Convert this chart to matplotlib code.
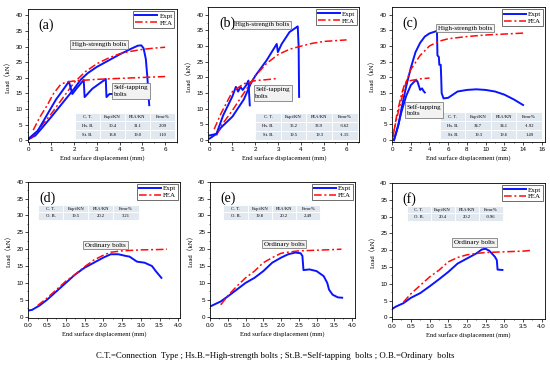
import matplotlib
matplotlib.use("Agg")
import matplotlib.pyplot as plt
from matplotlib.ticker import MultipleLocator, FormatStrFormatter

plt.rcParams['font.family'] = ['Liberation Serif', 'Noto Sans CJK SC']

BLUE = '#0a14ff'
RED = '#ff0a0a'

# ---------------- data ----------------
# (a)
a_hs_expt_x = [0, 0.3, 0.6, 1.0, 1.5, 2.0, 2.3, 2.6, 3.0, 3.5, 4.0, 4.5, 4.8, 4.95, 5.05, 5.15, 5.22, 5.27, 5.3]
a_hs_expt_y = [0.3, 1.5, 4.0, 7.5, 12.0, 16.5, 19.5, 21.5, 23.5, 25.5, 27.5, 29.3, 30.3, 30.4, 29.5, 26.0, 20.0, 14.0, 11.2]
a_st_expt_x = [0, 0.4, 0.8, 1.2, 1.5, 1.77, 1.92, 2.1, 2.42, 2.46, 2.8, 3.39, 3.42, 3.55, 3.68]
a_st_expt_y = [0.5, 3.0, 8.0, 13.0, 16.0, 18.8, 14.8, 16.5, 19.3, 13.8, 16.5, 19.6, 13.8, 14.8, 14.8]
a_hs_fea_x = [0.1, 0.5, 1.0, 1.5, 2.0, 2.5, 3.0, 3.5, 4.0, 4.5, 5.0, 5.5, 6.0]
a_hs_fea_y = [0.5, 4.0, 8.5, 13.5, 18.5, 22.0, 24.5, 26.3, 27.7, 28.5, 29.1, 29.5, 29.8]
a_st_fea_x = [0.2, 0.5, 0.8, 1.1, 1.4, 1.6, 2.0, 3.0, 4.0, 5.0, 6.0]
a_st_fea_y = [3.2, 7.5, 11.0, 15.0, 17.8, 18.5, 19.0, 19.5, 19.8, 20.1, 20.4]

# (b)
b_hs_expt_x = [0, 0.3, 0.5, 1.0, 1.5, 1.8, 2.0, 2.5, 2.94, 2.99, 3.15, 3.5, 3.8, 3.86, 3.9, 3.92]
b_hs_expt_y = [1.5, 2.0, 4.0, 7.5, 13.0, 18.0, 20.5, 25.5, 30.7, 28.1, 30.6, 34.5, 36.0, 36.3, 30.0, 13.8]
b_st_expt_x = [0, 0.3, 0.6, 1.0, 1.15, 1.25, 1.35, 1.45, 1.6, 1.7, 1.73, 1.76]
b_st_expt_y = [0.5, 2.0, 8.0, 14.0, 17.0, 15.5, 17.0, 16.0, 17.5, 19.0, 15.0, 11.1]
b_hs_fea_x = [0.3, 0.5, 1.0, 1.5, 2.0, 2.5, 3.0, 3.5, 4.0, 4.5, 5.0, 6.0]
b_hs_fea_y = [1.5, 4.5, 9.5, 15.0, 20.5, 24.5, 27.3, 29.0, 30.0, 30.9, 31.5, 32.0]
b_st_fea_x = [0.2, 0.5, 1.0, 1.5, 2.0, 2.5, 3.0]
b_st_fea_y = [3.5, 8.5, 15.5, 18.0, 19.0, 19.3, 19.7]

# (c)
c_hs_expt_x = [0.2, 0.7, 1.0, 1.5, 2.0, 2.5, 3.0, 3.5, 4.0, 4.7, 4.8, 4.85, 5.0, 5.05, 5.2, 5.25, 5.3, 5.5, 6.0, 6.5, 7.0, 8.0, 9.0, 10.0, 11.0, 12.0, 13.0, 14.0]
c_hs_expt_y = [0.0, 5.0, 10.0, 17.0, 23.0, 28.0, 31.0, 33.0, 34.0, 34.7, 34.5, 27.0, 26.5, 24.0, 24.0, 20.0, 15.0, 13.3, 13.5, 14.5, 15.5, 16.0, 16.2, 16.0, 15.5, 14.5, 13.0, 11.2]
c_st_expt_x = [0.2, 0.5, 1.0, 1.5, 2.0, 2.5, 2.7, 3.0, 3.2, 3.4, 3.5]
c_st_expt_y = [0.0, 3.0, 9.0, 14.0, 17.5, 19.0, 18.8, 16.0, 16.5, 15.5, 15.2]
c_hs_fea_x = [0.2, 0.5, 1.0, 1.5, 2.0, 3.0, 4.0, 5.0, 6.0, 8.0, 10.0, 12.0, 14.0]
c_hs_fea_y = [3.0, 7.0, 13.0, 18.5, 22.5, 27.0, 30.0, 31.5, 32.3, 33.0, 33.5, 33.8, 34.1]
c_st_fea_x = [0.1, 0.5, 1.0, 1.3, 1.5, 2.0, 3.0, 4.0]
c_st_fea_y = [1.0, 8.0, 14.5, 17.5, 18.5, 19.0, 19.5, 19.8]

# (d)
d_expt_x = [0, 0.1, 0.3, 0.5, 0.75, 1.0, 1.25, 1.5, 1.75, 2.0, 2.2, 2.4, 2.6, 2.7, 2.9, 3.1, 3.3, 3.4, 3.55]
d_expt_y = [1.8, 2.0, 3.3, 5.0, 7.5, 10.0, 12.5, 14.5, 16.0, 17.5, 18.5, 18.5, 18.0, 17.8, 16.3, 16.0, 15.0, 13.5, 11.5]
d_fea_x = [0.25, 0.5, 0.75, 1.0, 1.25, 1.5, 1.75, 2.0, 2.2, 2.5, 3.0, 3.5, 3.7]
d_fea_y = [3.3, 5.5, 8.0, 10.5, 12.5, 14.8, 16.8, 18.2, 19.1, 19.5, 19.8, 19.9, 20.0]

# (e)
e_expt_x = [0, 0.3, 0.5, 0.75, 1.0, 1.25, 1.5, 1.75, 2.0, 2.2, 2.4, 2.55, 2.6, 2.63, 2.8, 3.0, 3.2, 3.3, 3.35, 3.45, 3.6, 3.72]
e_expt_y = [3.0, 4.5, 6.0, 8.0, 10.0, 11.5, 13.5, 16.0, 17.5, 18.5, 19.0, 18.8, 18.0, 13.8, 14.0, 13.5, 12.0, 10.0, 8.0, 6.5, 5.7, 5.6]
e_fea_x = [0.3, 0.5, 0.75, 1.0, 1.25, 1.5, 1.75, 2.0, 2.25, 2.5, 3.0, 3.5, 3.7]
e_fea_y = [3.5, 6.2, 9.0, 11.5, 13.5, 16.0, 17.5, 18.8, 19.2, 19.5, 19.7, 19.9, 20.0]

# (f)
f_expt_x = [0, 0.1, 0.3, 0.5, 0.75, 1.0, 1.25, 1.5, 1.75, 2.0, 2.25, 2.4, 2.5, 2.6, 2.75, 2.8, 2.82, 2.95]
f_expt_y = [2.5, 3.2, 4.2, 5.8, 7.2, 9.2, 11.3, 13.5, 16.0, 17.5, 19.0, 20.2, 20.4, 19.8, 18.0, 17.0, 14.2, 14.1]
f_fea_x = [0.3, 0.5, 0.75, 1.0, 1.25, 1.5, 1.75, 2.0, 2.25, 2.5, 3.0, 3.5, 3.7]
f_fea_y = [4.5, 7.0, 9.5, 12.0, 14.0, 16.5, 17.8, 18.6, 19.0, 19.3, 19.5, 19.7, 19.9]

table_head = ["C. T.", "Expt/KN", "FEA/KN", "Error%"]
a_rows = [["Hs. B.", "30.4", "31.1", "2.09"], ["St. B.", "18.8", "19.0", "1.10"]]
b_rows = [["Hs. B.", "35.2", "33.9", "-3.62"], ["St. B.", "19.5", "19.3", "-1.15"]]
c_rows = [["Hs. B.", "34.7", "34.1", "-1.92"], ["St. B.", "19.3", "19.6", "1.49"]]
d_rows = [["O. B.", "19.5", "20.2", "3.21"]]
e_rows = [["O. B.", "19.8", "20.2", "2.49"]]
f_rows = [["O. B.", "20.4", "20.2", "-0.96"]]

caption = ("C.T.=Connection  Type ; Hs.B.=High-strength bolts ; "
           "St.B.=Self-tapping  bolts ; O.B.=Ordinary  bolts")

# ---------------- figure ----------------
fig = plt.figure(figsize=(5.5, 3.68), dpi=100)

box_style = dict(boxstyle='square,pad=0.25', fc='#f2f2f2', ec='#666666', lw=0.5)
DASH = (0, (5, 1.8, 1.3, 1.8))


def style_axes(ax, xmajor, xminor, xfmt):
    ax.xaxis.set_major_locator(MultipleLocator(xmajor))
    ax.xaxis.set_minor_locator(MultipleLocator(xminor))
    ax.xaxis.set_major_formatter(FormatStrFormatter(xfmt))
    ax.yaxis.set_major_locator(MultipleLocator(5))
    ax.yaxis.set_minor_locator(MultipleLocator(2.5))
    ax.tick_params(which='major', length=2, width=0.5, labelsize=4.5, pad=1.5,
                   labelfontfamily='Liberation Sans')
    ax.tick_params(which='minor', length=1, width=0.4)
    for s in ax.spines.values():
        s.set_linewidth(0.6)
    ax.set_xlabel("End surface displacement (mm)", fontsize=4.8, labelpad=2.5)
    ax.set_ylabel("Load（kN）", fontsize=4.8, labelpad=3)


def add_table(ax, rows, bbox):
    tb = ax.table(cellText=[table_head] + rows, bbox=bbox, cellLoc='center')
    tb.auto_set_font_size(False)
    tb.set_fontsize(3.3)
    for cell in tb.get_celld().values():
        cell.set_facecolor('#e2e8f0')
        cell.set_edgecolor('white')
        cell.set_linewidth(0.6)
    tb.set_zorder(1)


def add_legend(ax):
    leg = ax.legend(loc='upper right', fontsize=5, frameon=True, fancybox=False,
                    handlelength=3.2, borderpad=0.25, labelspacing=0.15,
                    handletextpad=0.3, borderaxespad=0.3)
    leg.get_frame().set_edgecolor('black')
    leg.get_frame().set_linewidth(0.5)


def panel_label(ax, text):
    ax.text(0.07, 0.93, text, transform=ax.transAxes, fontsize=10, va='top', ha='left')


lw_b, lw_r = 1.4, 1.1

# (a)
ax = fig.add_axes([0.050, 0.615, 0.271, 0.36])
ax.plot(a_hs_expt_x, a_hs_expt_y, color=BLUE, lw=lw_b, label='Expt')
ax.plot(a_hs_fea_x, a_hs_fea_y, color=RED, lw=lw_r, ls=DASH, label='FEA')
ax.plot(a_st_expt_x, a_st_expt_y, color=BLUE, lw=lw_b)
ax.plot(a_st_fea_x, a_st_fea_y, color=RED, lw=lw_r, ls=DASH)
ax.set_xlim(-0.05, 6.5)
ax.set_ylim(-0.5, 42)
style_axes(ax, 1, 0.5, '%d')
add_table(ax, a_rows, [0.32, 0.02, 0.67, 0.2])
ax.text(3.1, 30.7, "High-strength bolts", fontsize=5, ha='center', va='center', bbox=box_style)
ax.text(3.75, 15.8, "Self-tapping\nbolts", fontsize=5, ha='left', va='center', bbox=box_style,
        linespacing=1.4)
add_legend(ax)
panel_label(ax, "(a)")

# (b)
ax = fig.add_axes([0.379, 0.615, 0.274, 0.366])
ax.plot(b_hs_expt_x, b_hs_expt_y, color=BLUE, lw=lw_b, label='Expt')
ax.plot(b_hs_fea_x, b_hs_fea_y, color=RED, lw=lw_r, ls=DASH, label='FEA')
ax.plot(b_st_expt_x, b_st_expt_y, color=BLUE, lw=lw_b)
ax.plot(b_st_fea_x, b_st_fea_y, color=RED, lw=lw_r, ls=DASH)
ax.set_xlim(-0.05, 6.55)
ax.set_ylim(-0.5, 42.5)
style_axes(ax, 1, 0.5, '%d')
add_table(ax, b_rows, [0.31, 0.015, 0.68, 0.2])
ax.text(2.29, 36.8, "High-strength bolts", fontsize=5, ha='center', va='center', bbox=box_style)
ax.text(2.0, 15.1, "Self-tapping\nbolts", fontsize=5, ha='left', va='center', bbox=box_style,
        linespacing=1.4)
add_legend(ax)
panel_label(ax, "(b)")

# (c)
ax = fig.add_axes([0.712, 0.614, 0.279, 0.366])
ax.plot(c_hs_expt_x, c_hs_expt_y, color=BLUE, lw=lw_b, label='Expt')
ax.plot(c_hs_fea_x, c_hs_fea_y, color=RED, lw=lw_r, ls=DASH, label='FEA')
ax.plot(c_st_expt_x, c_st_expt_y, color=BLUE, lw=lw_b)
ax.plot(c_st_fea_x, c_st_fea_y, color=RED, lw=lw_r, ls=DASH)
ax.set_xlim(-0.05, 16.35)
ax.set_ylim(-0.6, 42.3)
style_axes(ax, 2, 1, '%d')
add_table(ax, c_rows, [0.315, 0.02, 0.665, 0.2])
ax.text(7.78, 35.7, "High-strength bolts", fontsize=5, ha='center', va='center', bbox=box_style)
ax.text(1.55, 9.6, "Self-tapping\nbolts", fontsize=5, ha='left', va='center', bbox=box_style,
        linespacing=1.4)
add_legend(ax)
panel_label(ax, "(c)")

# (d), (e), (f)
bottom = [
    ("(d)", [0.0515, 0.136, 0.276, 0.370], d_expt_x, d_expt_y, d_fea_x, d_fea_y, d_rows,
     [0.066, 0.72, 0.66, 0.11], (2.06, 21.2), 4.05),
    ("(e)", [0.382, 0.136, 0.264, 0.370], e_expt_x, e_expt_y, e_fea_x, e_fea_y, e_rows,
     [0.092, 0.72, 0.668, 0.11], (2.09, 21.5), 4.09),
    ("(f)", [0.713, 0.134, 0.278, 0.369], f_expt_x, f_expt_y, f_fea_x, f_fea_y, f_rows,
     [0.094, 0.72, 0.631, 0.11], (2.2, 22.3), 4.09),
]
for lab, pos, ex, ey, fx, fy, rows, tbox, txy, xmax in bottom:
    ax = fig.add_axes(pos)
    ax.plot(ex, ey, color=BLUE, lw=lw_b, label='Expt')
    ax.plot(fx, fy, color=RED, lw=lw_r, ls=DASH, label='FEA')
    ax.set_xlim(0, xmax)
    ax.set_ylim(-0.4, 40)
    style_axes(ax, 0.5, 0.25, '%.1f')
    add_table(ax, rows, tbox)
    ax.text(txy[0], txy[1], "Ordinary bolts", fontsize=5, ha='center', va='center', bbox=box_style)
    add_legend(ax)
    panel_label(ax, lab)

fig.text(0.5, 0.022, caption, ha='center', va='bottom', fontsize=6.3)

fig.savefig("out.png", dpi=100)
